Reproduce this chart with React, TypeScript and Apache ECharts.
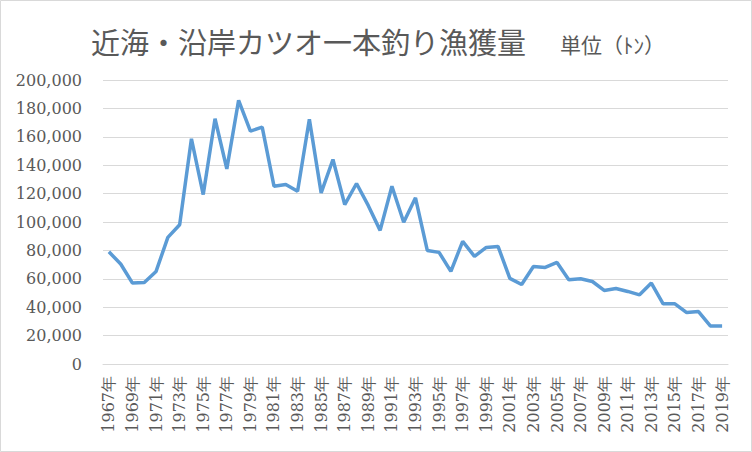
import React, { useEffect, useRef } from "react";
import * as echarts from "echarts";

const years: string[] = [];
for (let y = 1967; y <= 2019; y++) years.push(y + "年");

const catch_t: number[] = [
  79000, 70400, 57000, 57400, 65200, 89200, 98100, 158600, 119300, 172700,
  137400, 185700, 164000, 166800, 125200, 126400, 121600, 172300, 120500, 144000,
  112300, 127100, 111500, 94100, 125200, 99800, 117000, 80000, 78600, 65200,
  86400, 75800, 82100, 82800, 60300, 56000, 68700, 68000, 71500, 59300,
  60000, 58100, 51800, 53200, 51100, 48700, 57000, 42400, 42400, 36200,
  36900, 26800, 26800,
];

const titleText = "近海・沿岸カツオ一本釣り漁獲量";
const unitText = "単位（ﾄﾝ）";

export default function App() {
  const ref = useRef<HTMLDivElement>(null);
  useEffect(() => {
    if (!ref.current) return;
    const chart = echarts.init(ref.current, null, { renderer: "svg" });
    const serif = "DejaVu Serif";
    chart.setOption({
      animation: false,
      backgroundColor: "#ffffff",
      title: [
        {
          text: titleText,
          left: 86,
          top: 21,
          textStyle: { fontFamily: "Noto Sans CJK JP", fontSize: 29, fontWeight: "normal", color: "#595959" },
        },
        {
          text: unitText,
          left: 555,
          top: 28,
          textStyle: { fontFamily: "Noto Sans CJK JP", fontSize: 21, fontWeight: "normal", color: "#595959" },
        },
      ],
      graphic: [
        {
          type: "rect",
          shape: { x: 0.5, y: 0.5, width: 751, height: 451 },
          style: { fill: "none", stroke: "#D9D9D9", lineWidth: 1 },
          silent: true,
        },
      ],
      grid: { left: 103, right: 24, top: 80, bottom: 88, containLabel: false },
      xAxis: {
        type: "category",
        data: years,
        boundaryGap: true,
        axisLine: { show: true, lineStyle: { color: "#D9D9D9" } },
        axisTick: { show: false },
        axisLabel: {
          interval: 1,
          rotate: 90,
          color: "#595959",
          fontFamily: serif,
          fontSize: 16,
          margin: 12,
        },
      },
      yAxis: {
        type: "value",
        min: 0,
        max: 200000,
        interval: 20000,
        axisLine: { show: false },
        axisTick: { show: false },
        splitLine: { lineStyle: { color: "#D9D9D9", width: 1 } },
        axisLabel: {
          color: "#595959",
          fontFamily: serif,
          fontSize: 16,
          margin: 21,
          formatter: (v: number) => v.toLocaleString("en-US"),
        },
      },
      series: [
        {
          type: "line",
          data: catch_t,
          showSymbol: false,
          symbol: "none",
          lineStyle: { color: "#5B9BD5", width: 3.5 },
          itemStyle: { color: "#5B9BD5" },
        },
      ],
    });
    return () => chart.dispose();
  }, []);
  return (
    <div
      ref={ref}
      style={{ position: "absolute", left: 0, top: 0, width: 752, height: 452 }}
    />
  );
}
